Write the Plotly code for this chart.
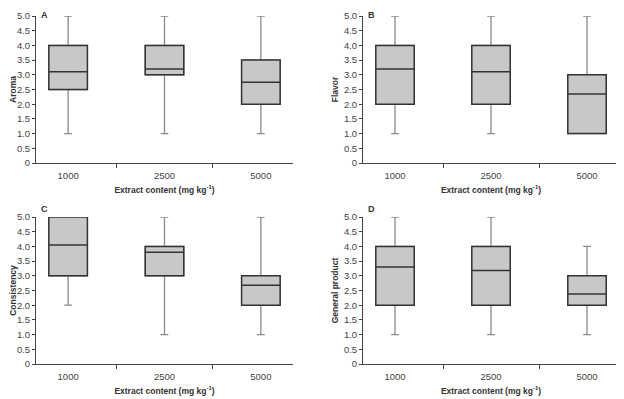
import plotly.graph_objects as go
from plotly.subplots import make_subplots

categories = ["1000", "2500", "5000"]

# Panel A – Aroma
aroma_low = [1.0, 1.0, 1.0]
aroma_q1 = [2.5, 3.0, 2.0]
aroma_med = [3.1, 3.2, 2.75]
aroma_q3 = [4.0, 4.0, 3.5]
aroma_high = [5.0, 5.0, 5.0]

# Panel B – Flavor
flavor_low = [1.0, 1.0, 1.0]
flavor_q1 = [2.0, 2.0, 1.0]
flavor_med = [3.2, 3.1, 2.35]
flavor_q3 = [4.0, 4.0, 3.0]
flavor_high = [5.0, 5.0, 5.0]

# Panel C – Consistency
cons_low = [2.0, 1.0, 1.0]
cons_q1 = [3.0, 3.0, 2.0]
cons_med = [4.05, 3.8, 2.68]
cons_q3 = [5.0, 4.0, 3.0]
cons_high = [5.0, 5.0, 5.0]

# Panel D – General product
gen_low = [1.0, 1.0, 1.0]
gen_q1 = [2.0, 2.0, 2.0]
gen_med = [3.3, 3.18, 2.38]
gen_q3 = [4.0, 4.0, 3.0]
gen_high = [5.0, 5.0, 4.0]

panels = [
    ("A", "Aroma", aroma_low, aroma_q1, aroma_med, aroma_q3, aroma_high),
    ("B", "Flavor", flavor_low, flavor_q1, flavor_med, flavor_q3, flavor_high),
    ("C", "Consistency", cons_low, cons_q1, cons_med, cons_q3, cons_high),
    ("D", "General product", gen_low, gen_q1, gen_med, gen_q3, gen_high),
]

# page body has an 8px margin, so the figure sits at (8, 8) in the window
OFF = 8
W, H = 624 - OFF, 399 - OFF


def px(x):
    return (x - OFF) / W


def py(y):
    return (H - (y - OFF)) / H


fig = make_subplots(rows=2, cols=2)

# window-pixel geometry of plot areas
xdom = [(36, 293), (363, 619)]
ydom = [(16, 163), (217, 364)]

FONT = "Liberation Sans Narrow, Arial Narrow, Liberation Sans, Arial, sans-serif"
tickvals = [0, 0.5, 1, 1.5, 2, 2.5, 3, 3.5, 4, 4.5, 5]
ticktext = ["0", "0.5", "1.0", "1.5", "2.0", "2.5", "3.0", "3.5", "4.0", "4.5", "5.0"]

for i, (lab, name, lo, q1, med, q3, hi) in enumerate(panels):
    r, c = i // 2 + 1, i % 2 + 1
    # whiskers layer
    fig.add_trace(go.Box(
        x=categories, q1=q1, median=med, q3=q3, lowerfence=lo, upperfence=hi,
        fillcolor="#c8c8c8", line=dict(color="#8a8a8a", width=1.3),
        whiskerwidth=0.2, width=0.4, boxpoints=False, showlegend=False,
        hoverinfo="skip"), row=r, col=c)
    # box layer (dark outline)
    fig.add_trace(go.Box(
        x=categories, q1=q1, median=med, q3=q3, lowerfence=q1, upperfence=q3,
        fillcolor="#c8c8c8", line=dict(color="#333333", width=1.5),
        whiskerwidth=0, width=0.4, boxpoints=False, showlegend=False), row=r, col=c)

    x0, x1 = xdom[c - 1]
    y0, y1 = ydom[r - 1]
    fig.update_xaxes(
        domain=[px(x0), px(x1)], type="category", showgrid=False, zeroline=False,
        automargin=False,
        showline=True, linecolor="#444", linewidth=1, ticks="outside", tickson="boundaries",
        ticklen=4, tickcolor="#444", ticklabelstandoff=4,
        tickfont=dict(family=FONT, size=9.5, color="#444"),
        title=dict(text="<b>Extract content (mg kg<sup>-1</sup>)</b>", standoff=6,
                   font=dict(family=FONT, size=8.5, color="#333")),
        row=r, col=c)
    fig.update_yaxes(
        domain=[py(y1), py(y0)], range=[0, 5], showgrid=False, zeroline=False,
        automargin=False,
        showline=True, linecolor="#444", linewidth=1, ticks="outside", ticklen=3,
        tickcolor="#444", tickvals=tickvals, ticktext=ticktext,
        tickfont=dict(family=FONT, size=9.5, color="#444"),
        title=dict(text="<b>%s</b>" % name, standoff=3,
                   font=dict(family=FONT, size=8.5, color="#333")),
        row=r, col=c)
    label_y = py(y0 - 8) if r == 2 else 1.0
    fig.add_annotation(text="<b>%s</b>" % lab, xref="paper", yref="paper",
                       x=px(x0 + 3), y=label_y, xanchor="left",
                       yanchor="middle" if r == 2 else "top",
                       showarrow=False, font=dict(family=FONT, size=9, color="#333"))

fig.update_layout(width=W, height=H, margin=dict(l=0, r=0, t=0, b=0),
                  paper_bgcolor="white", plot_bgcolor="white", boxmode="overlay")

fig.write_html("out.html")
